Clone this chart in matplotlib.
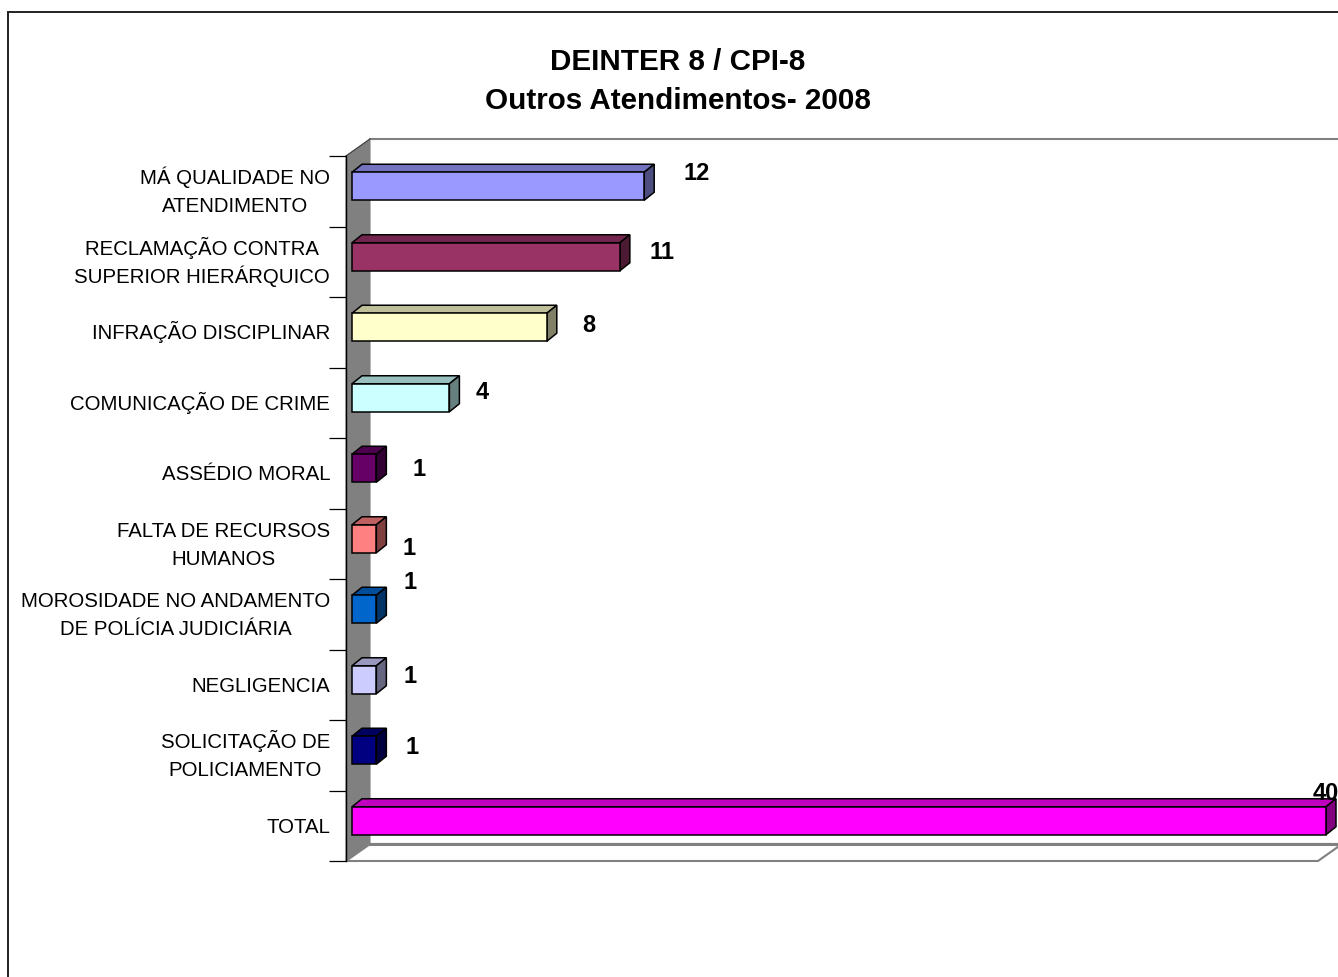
import numpy as np
import matplotlib
matplotlib.use('Agg')
import matplotlib.pyplot as plt
from matplotlib.patches import Polygon, Rectangle

plt.rcParams['font.family'] = ['Liberation Sans', 'DejaVu Sans']

# data
categories = ['MÁ QUALIDADE NO\nATENDIMENTO', 'RECLAMAÇÃO CONTRA\nSUPERIOR HIERÁRQUICO',
              'INFRAÇÃO DISCIPLINAR', 'COMUNICAÇÃO DE CRIME', 'ASSÉDIO MORAL',
              'FALTA DE RECURSOS\nHUMANOS', 'MOROSIDADE NO ANDAMENTO\nDE POLÍCIA JUDICIÁRIA',
              'NEGLIGENCIA', 'SOLICITAÇÃO DE\nPOLICIAMENTO', 'TOTAL']
values = [12, 11, 8, 4, 1, 1, 1, 1, 1, 40]
colors = ['#9999FF', '#993366', '#FFFFCC', '#CCFFFF', '#660066',
          '#FF8080', '#0066CC', '#CCCCFF', '#000080', '#FF00FF']
# label offsets in pixels (excel placed them a bit randomly)
label_offsets = [(52, 19), (42, 10), (42, 8), (33, 11), (43, 5),
                 (33, -4), (34, 33), (34, 9), (36, 9), (0, 33)]

W, H = 1338, 978
fig = plt.figure(figsize=(W / 100, H / 100), dpi=100)

# axes: x=0 at px 352, x=40 at px 1326, left spine at px 346
ppu = (1326 - 352) / 40.0
x0 = -6 / ppu
ax = fig.add_axes([346 / W, 1 - 862 / H, (1326 - 346) / W, (862 - 157) / H])
ax.set_xlim(x0, 40)
ax.set_ylim(9.5, -0.5)
ppr = (862 - 157) / 10.0

def shade(c, f):
    r, g, b = matplotlib.colors.to_rgb(c)
    return (r * f, g * f, b * f)

# side wall + floor + back wall edge
wdx, wdy = 24 / ppu, 17 / ppr
ax.add_patch(Polygon([(x0, -0.5), (x0 + wdx, -0.5 - wdy), (x0 + wdx, 9.5 - wdy), (x0, 9.5)],
                     closed=True, facecolor='#808080', edgecolor='#808080', lw=0.8,
                     clip_on=False, zorder=1))
fr = 40 - 8 / ppu
ax.add_patch(Polygon([(x0, 9.5), (fr, 9.5), (fr + wdx, 9.5 - wdy), (x0 + wdx, 9.5 - wdy)],
                     closed=True, facecolor='white', edgecolor='#808080', lw=1.5,
                     clip_on=False, zorder=1))
ax.plot([x0 + wdx, 45], [9.5 - wdy, 9.5 - wdy], color='#808080', lw=2.2, clip_on=False, zorder=1)
ax.plot([x0 + wdx, 45], [-0.5 - wdy, -0.5 - wdy], color='#808080', lw=1.5, clip_on=False, zorder=1)
ax.plot([x0, x0 + wdx], [-0.5, -0.5 - wdy], color='#404040', lw=0.8, clip_on=False, zorder=1)

# 3d bars
h = 28 / ppr
dx, dy = 10 / ppu, 8 / ppr
yc = np.arange(len(values)) - 5 / ppr
for i, (v, c) in enumerate(zip(values, colors)):
    yt, yb = yc[i] - h / 2, yc[i] + h / 2
    ax.add_patch(Polygon([(0, yt), (v, yt), (v + dx, yt - dy), (dx, yt - dy)], closed=True,
                         facecolor=shade(c, 0.75), edgecolor='black', lw=1.1,
                         clip_on=False, zorder=3))
    ax.add_patch(Polygon([(v, yt), (v + dx, yt - dy), (v + dx, yb - dy), (v, yb)], closed=True,
                         facecolor=shade(c, 0.5), edgecolor='black', lw=1.1,
                         clip_on=False, zorder=3))
ax.barh(yc, values, height=h, left=0, color=colors, edgecolor='black', lw=1.1,
        zorder=4, clip_on=False)

for i, v in enumerate(values):
    ax.annotate(str(v), xy=(v, i), xytext=label_offsets[i], textcoords='offset pixels',
                ha='center', va='center', fontsize=17, fontweight='bold',
                annotation_clip=False, zorder=5)

# category labels, one text per line so the line gap stays fixed
fs = 14.7
cap = fs * 100 / 72 * 0.716
renderer = fig.canvas.get_renderer()
for i, cat in enumerate(categories):
    lines = cat.split('\n')
    widths = []
    for ln in lines:
        t = fig.text(0, 0, ln, fontsize=fs)
        widths.append(t.get_window_extent(renderer).width)
        t.remove()
    cx = -16 - max(widths) / 2
    n = len(lines)
    for k, ln in enumerate(lines):
        oy = 1.5 + ((n - 1) / 2 - k) * 28 - cap / 2
        ax.annotate(ln, xy=(x0, i), xytext=(cx, oy), textcoords='offset pixels',
                    ha='center', va='baseline', fontsize=fs, annotation_clip=False)

# axis styling
for s in ['top', 'right', 'bottom']:
    ax.spines[s].set_visible(False)
ax.spines['left'].set_color('black')
ax.spines['left'].set_linewidth(1.0)
ax.spines['left'].set_zorder(2)
ax.set_xticks([])
ax.set_yticks([])
ax.set_yticks(np.arange(-0.5, 10, 1), minor=True)
ax.tick_params(axis='y', which='minor', length=12, width=0.9, direction='out')
ax.patch.set_visible(False)

# outer frame
fig.add_artist(Rectangle((8 / W, -0.1), 1.2, 1.1 - 13 / H, transform=fig.transFigure,
                         fill=False, edgecolor='#222222', lw=1.4))

fig.text(678 / W, 1 - 62 / H, 'DEINTER 8 / CPI-8',
         ha='center', va='center', fontsize=21.3, fontweight='bold')
fig.text(678 / W, 1 - 101 / H, 'Outros Atendimentos- 2008',
         ha='center', va='center', fontsize=21.3, fontweight='bold')

plt.savefig('out.png', dpi=100)
